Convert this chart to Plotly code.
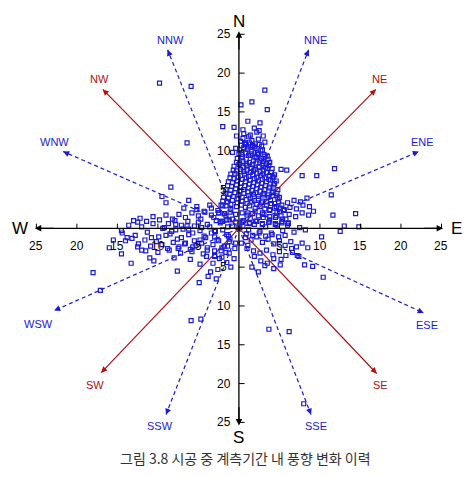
import plotly.graph_objects as go

# wind data points (x = east component, y = north component)
outlier_x = [-9.8,-5.9,3.2,1.6,0.25,3.5,-2,-0.6,1.1,2.6,-6.4,11.8,9.6,7.8,5.9,5.2,-8.4,-9.5,-9,-6.2,11.4,11.6,14.4,14.8,13,-12.5,-14.4,
             -18,-17.1,-5.9,-4.7,3.7,6.2,8,10.4,4.3,-4.9,-3.8,-1,-13.3,-14.5,9.1,8.1,-15.5,-16,-11,-12,-10.5,-13.8,-7.6,7.2,6.5,10.2,12.5,-3]
outlier_y = [18.7,18.3,17.8,16.3,15.9,15.3,13.1,13,13.8,13.6,11,7.7,6.8,6.8,7.5,7.6,5.3,4.1,3.3,3.6,4.3,1.7,1.9,0.2,0.3,0.8,-0.6,
             -5.7,-8,-11.9,-11.7,-13,-13.3,-22.6,-6.3,-5.2,-7,-6.2,-5,-4.5,-3.3,-4.9,-4.7,-1.5,-2.5,-3.8,-2.8,-4.2,-1.2,-5.5,-3.5,-2.6,-1.1,-0.4,-3.6]

# upward wedge (north winds)
north_x = [0.2,0.5,0.8,1.2,1.6,2.0,2.4,2.8,3.2,-0.4,-0.8,0.1,0.6,1.1,1.5,1.9,2.3,2.7,3.1,3.5,-0.2,0.4,0.9,1.4,1.8,2.2,2.6,3.0,3.4,3.8,
           -0.6,0.0,0.5,1.0,1.5,2.0,2.5,3.0,3.5,4.0,4.4,-1.0,-0.5,0.2,0.7,1.2,1.7,2.2,2.7,3.2,3.7,4.2,4.6,-1.3,-0.8,-0.2,0.3,0.8,1.3,1.8,
           2.3,2.8,3.3,3.8,4.3,4.8,-1.6,-1.0,-0.4,0.1,0.6,1.1,1.6,2.1,2.6,3.1,3.6,4.1,4.6,5.0,-1.9,-1.3,-0.7,-0.1,0.4,0.9,1.4,1.9,2.4,2.9,
           3.4,3.9,4.4,4.9,5.3,-2.2,-1.6,-1.0,-0.3,0.3,0.8,1.3,2.0,2.6,3.2,3.8,4.4,5.0,5.6,-2.5,-1.8,-1.1,-0.4,0.4,1.0,1.7,2.4,3.1,3.8,4.5,
           5.2,5.8,-2.8,-2.0,-1.2,-0.4,0.5,1.3,2.1,2.9,3.7,4.5,5.3,6.0,0.6,1.4,2.2,3.0,0.9,1.7,2.5,-0.3,0.5,1.9]
north_y = [11.2,11.6,11.0,11.8,11.3,10.9,11.5,10.6,11.1,10.3,9.8,10.1,10.4,10.2,9.9,10.5,9.7,10.0,9.5,9.3,9.0,9.2,8.9,9.4,8.7,9.1,8.8,8.6,8.3,8.5,
           8.0,8.2,7.9,8.1,7.8,7.6,7.9,7.5,7.7,7.2,6.9,7.0,7.1,6.8,7.0,6.7,6.9,6.6,6.8,6.5,6.3,6.6,6.1,6.0,5.9,6.1,5.8,6.0,5.7,5.9,
           5.6,5.8,5.5,5.3,5.6,5.0,5.0,4.9,5.1,4.8,5.0,4.7,4.9,4.6,4.8,4.5,4.3,4.6,4.2,4.0,4.0,3.9,4.1,3.8,4.0,3.7,3.9,3.6,3.8,3.5,
           3.4,3.6,3.2,3.4,3.0,3.0,2.9,3.1,2.8,3.0,2.7,2.9,2.6,2.8,2.5,2.4,2.6,2.2,2.3,2.0,1.9,2.1,1.8,2.0,1.7,1.9,1.6,1.8,1.5,1.4,
           1.6,1.2,1.0,0.9,1.1,0.8,1.0,0.7,0.9,0.6,0.8,0.5,0.7,0.4,12.2,12.0,12.4,11.9,10.8,10.7,12.6,11.9,12.7,12.9]
north2_x = [0.3,0.7,1.0,1.3,1.7,2.1,2.5,2.9,0.0,0.4,0.8,1.2,1.6,2.0,2.4,2.8,3.2,3.6,-0.3,0.1,0.5,0.9,1.3,1.7,2.1,2.5,2.9,3.3,3.7,4.1,
            -0.7,-0.3,0.2,0.6,1.0,1.4,1.8,2.2,2.6,3.0,3.4,3.8,4.2,-1.1,-0.6,-0.1,0.4,0.9,1.4,1.9,2.4,2.9,3.4,3.9,4.4,-1.4,-0.9,-0.3,0.2,0.7,
            1.2,1.7,2.2,2.7,3.2,3.7,4.2,4.7,-1.7,-1.1,-0.5,0.0,0.6,1.2,1.8,2.4,3.0,3.6,4.2,4.8,-2.0,-1.4,-0.8,-0.2,0.4,1.0,1.6,2.2,2.8,3.4,4.0,4.6,5.1]
north2_y = [10.7,10.9,10.5,11.0,10.6,10.3,10.8,10.1,9.6,9.5,9.7,9.4,9.6,9.2,9.5,9.0,9.3,8.9,8.5,8.4,8.6,8.3,8.5,8.2,8.4,8.0,8.3,7.9,8.1,7.7,
            7.5,7.4,7.6,7.3,7.5,7.2,7.4,7.1,7.3,7.0,7.2,6.8,6.6,6.5,6.4,6.6,6.3,6.5,6.2,6.4,6.1,6.3,6.0,6.2,5.8,5.5,5.4,5.6,5.3,5.5,
            5.2,5.4,5.1,5.3,5.0,5.2,4.8,4.5,4.5,4.4,4.6,4.3,4.5,4.2,4.4,4.1,4.3,4.0,4.2,3.8,3.5,3.4,3.6,3.3,3.5,3.2,3.4,3.1,3.3,3.0,3.2,2.8,2.6]

# westward band and southern spread
west_x = [-14.5,-13.6,-12.8,-12.0,-11.3,-10.6,-9.9,-9.2,-8.5,-7.8,-7.1,-6.4,-5.7,-5.0,-4.3,-3.6,-2.9,-2.2,-1.5,-0.8,
          -14.0,-13.2,-12.4,-11.6,-10.9,-10.2,-9.5,-8.8,-8.1,-7.4,-6.7,-6.0,-5.3,-4.6,-3.9,-3.2,-2.5,-1.8,-1.1,-0.4,
          -13.0,-12.2,-11.4,-10.6,-9.8,-9.0,-8.2,-7.4,-6.6,-5.8,-5.0,-4.2,-3.4,-2.6,-1.8,-1.0,-11.5,-10.0,-8.6,-7.2,
          -5.8,-4.4,-3.0,-1.6,-9.4,-7.8,-6.2,-4.6,-3.0,-1.4,-6.8,-5.2,-3.6,-2.0,-8.0,-6.0,-4.0,-2.4,-10.8,-12.5,
          -3.2,-2.1,-1.2,-0.5,-2.6,-1.5,-0.6,-4.8,-3.5,-2.8,
          -9.0,-8.3,-7.6,-6.9,-6.2,-5.5,-4.8,-4.1,-3.4,-2.7,-2.0,-1.3,-8.7,-7.9,-7.1,-6.3,-5.5,-4.7,-3.9,-3.1,-2.3,-1.5,
          -7.5,-6.6,-5.7,-4.8,-3.9,-3.0,-2.1,-1.2,-5.2,-4.3,-3.4,-2.5,-1.6,-0.8,-3.0,-2.2,-1.4]
west_y = [-0.3,0.4,-0.9,0.2,-0.5,0.6,-1.1,0.1,-0.7,0.5,-1.2,0.3,-0.6,0.8,-1.0,0.2,-0.4,0.9,-0.8,0.3,
          -1.6,-1.3,-2.0,-1.5,-2.3,-1.7,-2.1,-2.6,-1.8,-2.4,-2.0,-2.7,-2.2,-1.9,-2.5,-2.1,-1.6,-2.3,-1.4,-1.9,
          1.0,1.3,0.9,1.5,1.1,1.7,1.2,1.8,1.4,2.0,1.6,2.1,1.7,2.3,1.9,2.4,-2.9,-3.1,-2.8,-3.2,
          -3.0,-3.3,-2.9,-3.1,0.0,-0.2,-0.1,0.1,-0.3,0.2,2.6,2.8,3.0,2.9,-3.8,-4.0,-3.6,-3.9,-1.2,-2.4,
          -4.5,-3.7,-3.2,-2.6,-5.3,-4.4,-3.9,-4.6,-5.6,-6.5,
          -0.9,-0.4,-1.4,-0.1,-0.8,-1.6,-0.3,-1.2,-0.6,-1.5,-0.2,-1.0,0.6,1.0,0.4,0.9,0.3,1.2,0.5,1.4,0.7,1.1,
          -2.6,-1.9,-2.4,-1.5,-2.8,-1.1,-2.5,-1.7,2.4,2.2,2.6,2.0,1.6,1.2,-3.5,-2.9,-2.3]

# eastern spread
east_x = [0.5,1.2,1.9,2.6,3.3,4.0,4.7,5.4,6.1,6.8,7.5,8.2,0.8,1.5,2.2,2.9,3.6,4.3,5.0,5.7,6.4,7.1,7.8,8.5,
          1.0,1.8,2.6,3.4,4.2,5.0,5.8,6.6,7.4,0.6,1.4,2.2,3.0,3.8,4.6,5.4,6.2,7.0,7.8,8.6,9.2,
          5.5,6.3,7.1,7.9,8.7,6.0,6.8,7.6,8.4,5.2,0.3,1.1,1.9,2.7,3.5,4.3,5.1,1.6,2.4,3.2,
          0.9,1.7,2.5,3.3,4.1,4.9,5.7,0.4,1.3,2.1,2.9,3.7,4.5,5.3,6.1,1.1,2.0,2.9,3.8,4.7]
east_y = [0.3,-0.2,0.5,-0.4,0.2,-0.6,0.4,-0.3,0.6,-0.5,0.1,-0.2,-1.2,-1.5,-1.1,-1.8,-1.4,-2.0,-1.6,-2.2,-1.7,-2.4,-1.9,-2.5,
          -2.6,-2.9,-3.2,-2.8,-3.4,-3.0,-3.5,-3.1,-3.6,1.0,1.3,0.9,1.4,1.1,1.6,1.2,1.8,1.5,2.0,1.7,2.2,
          2.4,2.7,2.5,3.0,2.8,3.3,3.6,3.4,3.9,-4.0,-1.9,-2.2,-3.6,-4.2,-4.5,-3.9,-4.7,-5.0,-5.6,-4.8,
          -0.7,-0.9,-0.6,-1.0,-0.8,-1.1,-0.9,0.8,0.6,0.9,0.5,0.8,0.6,0.9,0.7,2.0,2.2,2.0,2.3,2.1]

pts_x = outlier_x + north_x + north2_x + west_x + east_x
pts_y = outlier_y + north_y + north2_y + west_y + east_y

# compass directions
dir_names = ["NE","NW","SW","SE","NNE","NNW","ENE","WNW","WSW","ESE","SSW","SSE"]
dir_end_x = [16.9,-16.8,-17.0,17.0,8.6,-8.8,22.2,-21.7,-22.8,22.8,-9.0,8.9]
dir_end_y = [17.9,17.9,-18.6,-18.7,23.0,23.0,9.9,9.9,-10.6,-10.9,-24.0,-24.0]
dir_lab_x = [17.3,-17.2,-17.8,17.5,9.5,-8.5,22.6,-22.8,-24.7,23.2,-9.7,9.5]
dir_lab_y = [19.3,19.3,-20.2,-20.2,24.3,24.3,11.1,11.1,-12.3,-12.5,-25.5,-25.5]
ticks = [5,10,15,20,25]

RED = "#b01010"
BLUE = "#1a1ad8"
fig = go.Figure()

for name, ex, ey, lx, ly in zip(dir_names, dir_end_x, dir_end_y, dir_lab_x, dir_lab_y):
    major = len(name) == 2
    col = RED if major else BLUE
    fig.add_trace(go.Scatter(x=[0, ex], y=[0, ey], mode="lines",
                             line=dict(color=col, width=1.2, dash="solid" if major else "4px,3px"),
                             hoverinfo="skip", showlegend=False))
    fig.add_annotation(x=ex, y=ey, ax=ex*0.96, ay=ey*0.96, xref="x", yref="y", axref="x", ayref="y",
                       showarrow=True, arrowhead=2, arrowsize=1, arrowwidth=1.2, arrowcolor=col, text="")
    fig.add_annotation(x=lx, y=ly, text=name, showarrow=False,
                       font=dict(color=col, size=11, family="Liberation Sans"))

fig.add_trace(go.Scatter(x=pts_x, y=pts_y, mode="markers",
                         marker=dict(symbol="square-open", size=4, color=BLUE, line=dict(width=1.2)),
                         hoverinfo="skip", showlegend=False))

# axes
fig.add_trace(go.Scatter(x=[-25, 25], y=[0, 0], mode="lines", line=dict(color="black", width=1.3),
                         hoverinfo="skip", showlegend=False))
fig.add_trace(go.Scatter(x=[0, 0], y=[-25, 25], mode="lines", line=dict(color="black", width=1.3),
                         hoverinfo="skip", showlegend=False))
for (x, y) in [(25.2, 0), (-25.2, 0), (0, 25.4), (0, -25.4)]:
    fig.add_annotation(x=x, y=y, ax=x*0.9, ay=y*0.9, xref="x", yref="y", axref="x", ayref="y",
                       showarrow=True, arrowhead=2, arrowsize=1, arrowwidth=1.3, arrowcolor="black", text="")
for t in ticks:
    for s in (1, -1):
        fig.add_shape(type="line", x0=s*t, x1=s*t, y0=0, y1=0.6, line=dict(color="black", width=1))
        fig.add_shape(type="line", x0=0, x1=0.7, y0=s*t, y1=s*t, line=dict(color="black", width=1))
        fig.add_annotation(x=s*t, y=-2.3, text=str(t), showarrow=False,
                           font=dict(size=12, color="black", family="Liberation Sans"))
        fig.add_annotation(x=-1.9, y=s*t, text=str(t), showarrow=False,
                           font=dict(size=12, color="black", family="Liberation Sans"))
for txt, x, y in [("N", 0, 26.6), ("S", 0, -27.0), ("E", 26.9, 0), ("W", -27.0, 0)]:
    fig.add_annotation(x=x, y=y, text=txt, showarrow=False,
                       font=dict(size=17, color="black", family="Liberation Sans"))

fig.add_annotation(x=0.5, y=-0.05, xref="paper", yref="paper",
                   text="그림 3.8 시공 중 계측기간 내 풍향 변화 이력",
                   showarrow=False, font=dict(size=14, color="#333", family="Noto Sans CJK KR"))

fig.update_layout(width=474, height=477, margin=dict(l=0, r=0, t=10, b=37),
                  plot_bgcolor="white", paper_bgcolor="white",
                  xaxis=dict(range=[-28.5, 30.0], visible=False, fixedrange=True),
                  yaxis=dict(range=[-28.3, 27.1], visible=False, fixedrange=True))
fig.write_html("out.html")
